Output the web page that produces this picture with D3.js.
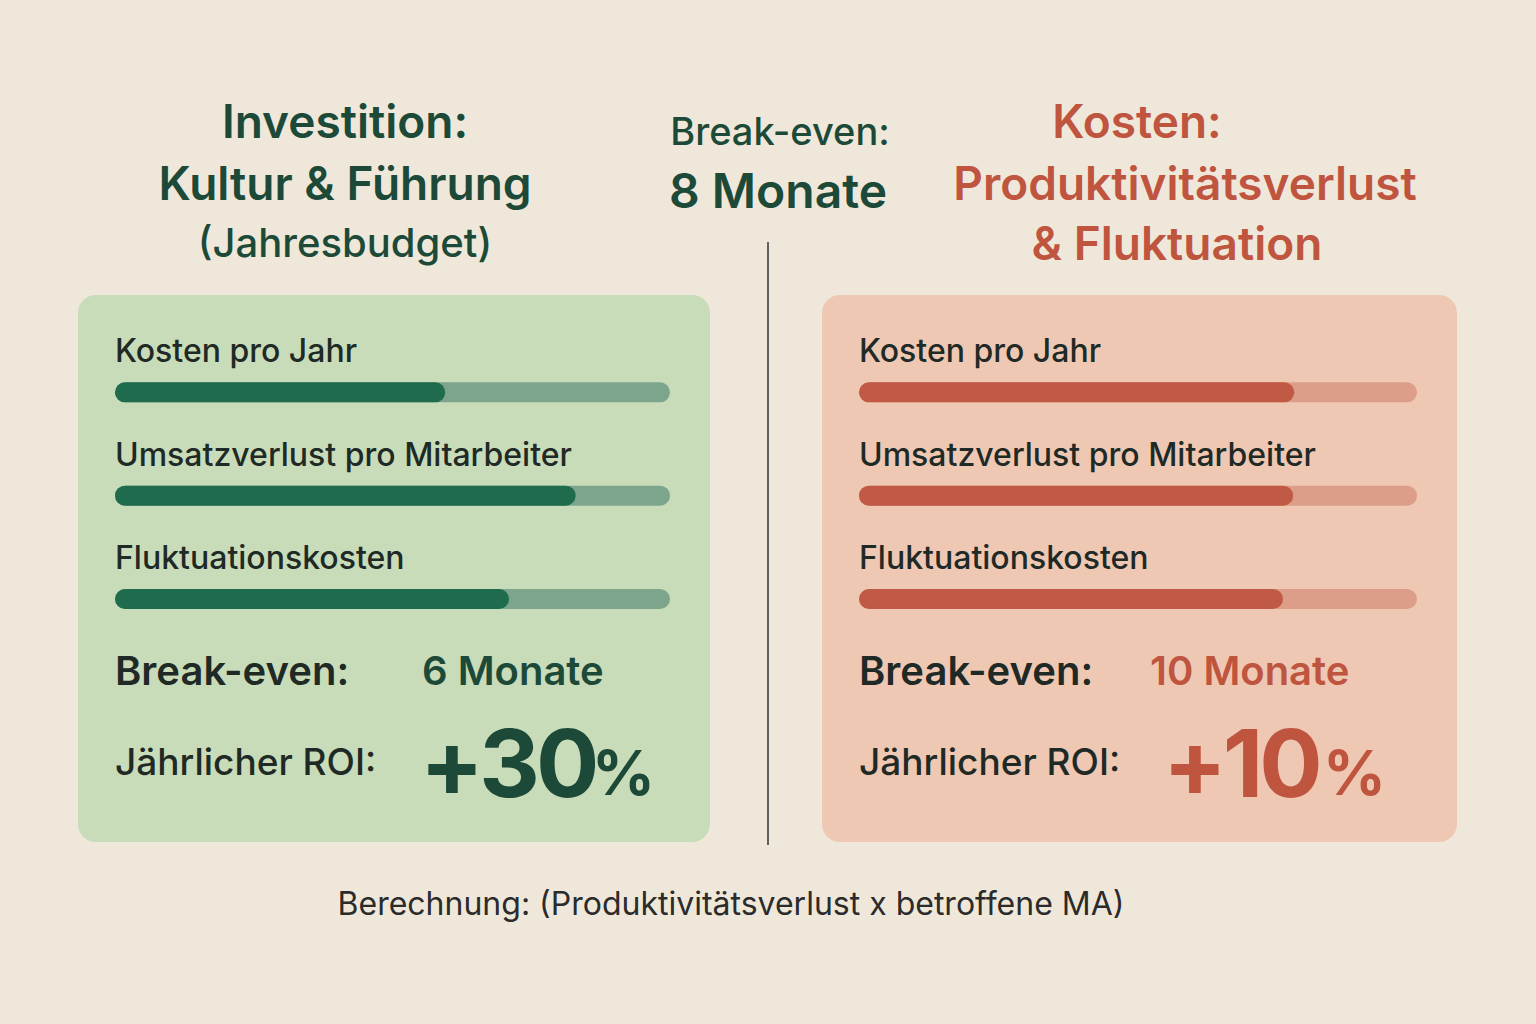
<!DOCTYPE html>
<html><head><meta charset="utf-8">
<script src="https://cdn.jsdelivr.net/npm/d3@7"></script>
<style>body{margin:0;background:#efe8da}</style></head>
<body><svg id="c" width="1536" height="1024"></svg>
<script>
const categories=["Kosten pro Jahr","Umsatzverlust pro Mitarbeiter","Fluktuationskosten"];
const investValues=[59.5,83,71];
const costValues=[78,77.8,76];
const breakEven=["6 Monate","10 Monate"];
const roi=["+30","+10"];
const svg=d3.select("#c");
const F="Inter, 'Noto Sans', sans-serif";
svg.append("rect").attr("width",1536).attr("height",1024).attr("fill","#efe8da");
function t(x,y,s,size,fill,weight,anchor){return svg.append("text").attr("x",x).attr("y",y).text(s).attr("font-family",F).attr("font-size",size).attr("fill",fill).attr("font-weight",weight||400).attr("text-anchor",anchor||"start");}
const G="#1d4a38",R="#c0553f";
t(345,138,"Investition:",46,G,600,"middle");
t(345,200,"Kultur & Führung",46,G,600,"middle");
t(345,257,"(Jahresbudget)",40,G,500,"middle");
t(780,145,"Break-even:",38,G,500,"middle");
t(778,208,"8 Monate",48,G,600,"middle");
t(1137,138,"Kosten:",46,R,600,"middle");
t(1185,200,"Produktivitätsverlust",46,R,600,"middle");
t(1177,260,"& Fluktuation",46,R,600,"middle");
svg.append("line").attr("x1",768).attr("x2",768).attr("y1",242).attr("y2",845).attr("stroke","#333").attr("stroke-width",1.5);
const panels=[{x:78,w:632,bg:"#c9dcb9",fill:"#1f6b4e",track:"#7ca58b",vals:investValues,acc:G},
{x:822,w:635,bg:"#efc8b4",fill:"#c05a45",track:"#dd9e89",vals:costValues,acc:R}];
const y=d3.scaleBand().domain(categories).range([310,620]);
panels.forEach((p,i)=>{
 svg.append("rect").attr("x",p.x).attr("y",295).attr("width",p.w).attr("height",547).attr("rx",18).attr("fill",p.bg);
 const bx=p.x+37,bw=p.w-77;
 const x=d3.scaleLinear().domain([0,100]).range([bx,bx+bw]);
 categories.forEach((c,j)=>{
  const yy=y(c)+y.bandwidth()*0.7;
  t(bx,yy-20,c,32,"#1f2a26",500);
  svg.append("rect").attr("x",bx).attr("y",yy).attr("width",bw).attr("height",20).attr("rx",10).attr("fill",p.track);
  svg.append("rect").attr("x",bx).attr("y",yy).attr("width",x(p.vals[j])-bx).attr("height",20).attr("rx",10).attr("fill",p.fill);
 });
 t(bx,685,"Break-even:",40,"#1f2a26",600);
 t(i?1150:422,685,breakEven[i],40,i?R:G,600);
 t(bx,775,"Jährlicher ROI:",37,"#1f2a26",500);
 const rx=i?1163:420;
 const r=t(rx,797,roi[i],94,i?R:G,700).attr("letter-spacing",-4);
 t(rx+(i?160:172),795,"%",62,i?R:G,700);
});
t(731,915,"Berechnung: (Produktivitätsverlust x betroffene MA)",32,"#2b2b2b",400,"middle");
</script></body></html>
